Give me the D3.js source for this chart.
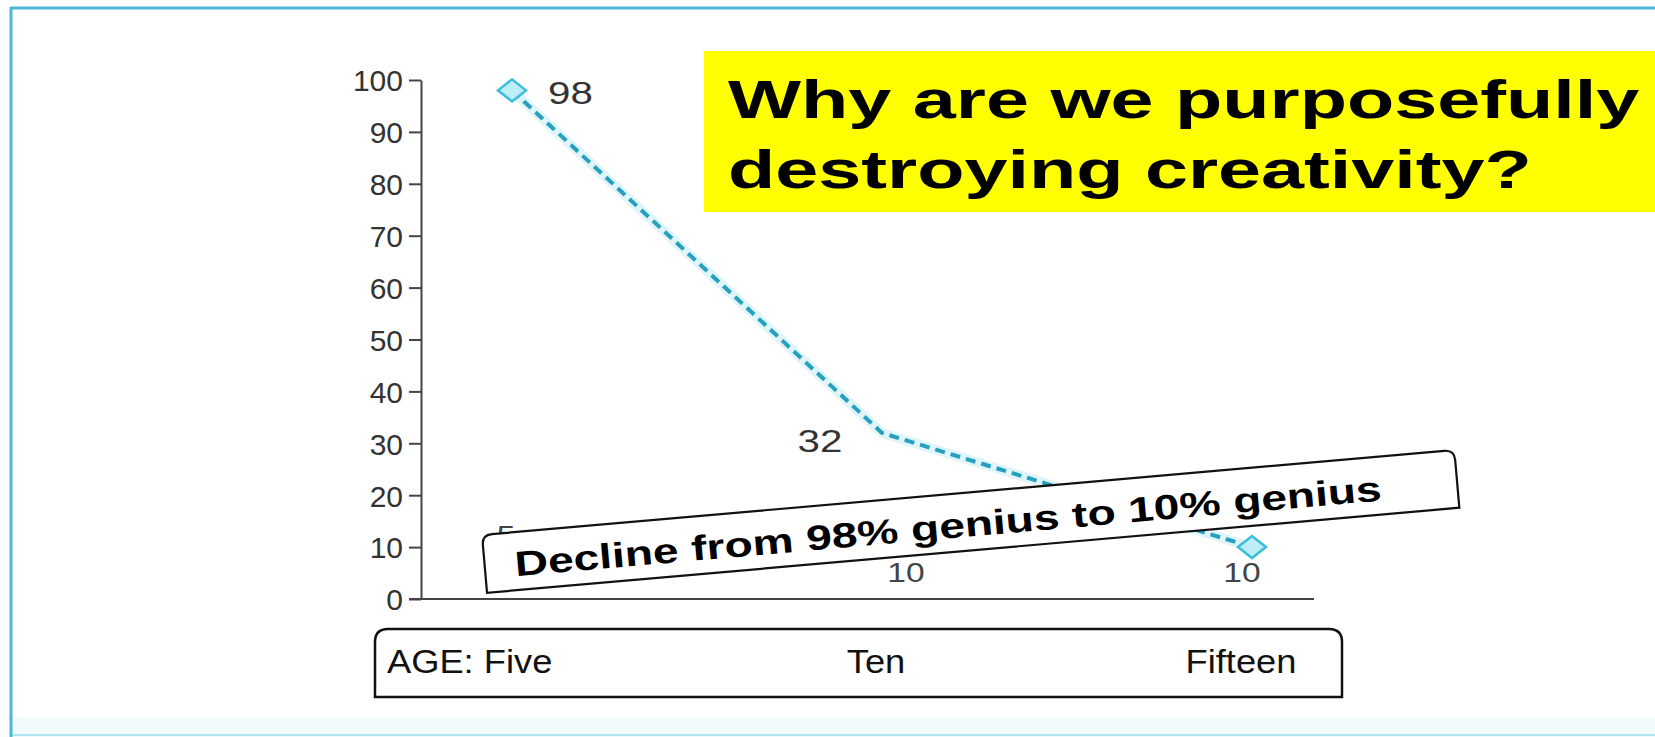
<!DOCTYPE html>
<html>
<head>
<meta charset="utf-8">
<script src="https://cdn.jsdelivr.net/npm/d3@7/dist/d3.min.js"></script>
<style>
  html, body { margin: 0; padding: 0; background: #ffffff; }
  svg { display: block; }
  text { font-family: "Liberation Sans", Arial, Helvetica, sans-serif; }
</style>
</head>
<body>
<svg id="chart" width="1655" height="737"></svg>
<script>
// ---------------- data ----------------
const categories = ["Five", "Ten", "Fifteen"];
const categoryLabels = ["AGE: Five", "Ten", "Fifteen"];
const geniusPct = [98, 32, 10];
const valueLabels = ["98", "32", "10"];
const markerShown = [true, false, true];
const strayLabels = ["5", "10", "10"];
const yTicks = [0, 10, 20, 30, 40, 50, 60, 70, 80, 90, 100];
const titleLines = ["Why are we purposefully", "destroying creativity?"];
const calloutText = "Decline from 98% genius to 10% genius";

// ---------------- layout ----------------
const W = 1655, H = 737;
const svg = d3.select("#chart");

const x = d3.scalePoint().domain(categories).range([512, 1252]);
const y = d3.scaleLinear().domain([0, 100]).range([599, 80]);
const axisX = 421;

// frame
svg.append("rect").attr("x", 0).attr("y", 0).attr("width", W).attr("height", H).attr("fill", "#fff");
svg.append("rect").attr("x", 11).attr("y", 718).attr("width", W - 11).attr("height", 19).attr("fill", "#f1fbfc");
svg.append("line").attr("x1", 11).attr("x2", W).attr("y1", 735).attr("y2", 735)
  .attr("stroke", "#aee6ef").attr("stroke-width", 2);
svg.append("line").attr("x1", 11).attr("x2", W).attr("y1", 8).attr("y2", 8)
  .attr("stroke", "#4bb6d8").attr("stroke-width", 3);
svg.append("line").attr("x1", 11).attr("x2", 11).attr("y1", 7).attr("y2", H)
  .attr("stroke", "#4bb6d8").attr("stroke-width", 3);

// y axis
const yAxis = svg.append("g").attr("transform", `translate(${axisX},0)`)
  .call(d3.axisLeft(y).tickValues(yTicks).tickSize(12).tickSizeOuter(0).tickPadding(6));
yAxis.select(".domain").attr("stroke", "#444").attr("stroke-width", 2);
yAxis.selectAll(".tick line").attr("stroke", "#444").attr("stroke-width", 2);
yAxis.selectAll(".tick text")
  .attr("x", 0).attr("dy", "0.36em")
  .attr("transform", `translate(-18,0) scale(1.0,1)`)
  .attr("font-size", 30).attr("fill", "#333")
  .attr("font-family", "'Liberation Sans', Arial, sans-serif");

// x axis baseline
svg.append("line").attr("x1", axisX - 12).attr("x2", 1314).attr("y1", y(0)).attr("y2", y(0))
  .attr("stroke", "#444").attr("stroke-width", 2);

// data
const pts = categories.map((c, i) => ({ c, v: geniusPct[i], i }));

// line glow + dashed line
const lineGen = d3.line().x(d => x(d.c)).y(d => y(d.v)).curve(d3.curveLinear);
svg.append("path").datum(pts).attr("d", lineGen)
  .attr("fill", "none").attr("stroke", "#e0f5fa").attr("stroke-width", 10)
  .attr("stroke-linejoin", "round");
svg.append("path").datum(pts).attr("d", lineGen)
  .attr("fill", "none").attr("stroke", "#25a0bf").attr("stroke-width", 4)
  .attr("stroke-dasharray", "10,6").attr("stroke-linejoin", "round");

// markers (stretched diamonds)
const dw = 14, dh = 11;
svg.selectAll(".marker").data(pts.filter(d => markerShown[d.i])).join("path")
  .attr("class", "marker")
  .attr("d", d => {
    const cx = x(d.c), cy = y(d.v);
    return `M${cx - dw},${cy}L${cx},${cy - dh}L${cx + dw},${cy}L${cx},${cy + dh}Z`;
  })
  .attr("fill", "#bdeef8").attr("stroke", "#3bbedb").attr("stroke-width", 2.5);

// value labels
const valueOffsets = [[36, 2, "start"], [-62, 8, "middle"], [0, 0, "none"]];
svg.selectAll(".vlab").data(pts.filter(d => valueOffsets[d.i][2] !== "none")).join("text")
  .attr("class", "vlab")
  .attr("transform", d => `translate(${x(d.c) + valueOffsets[d.i][0]},${y(d.v) + valueOffsets[d.i][1]}) scale(1.3,1)`)
  .attr("dy", "0.36em")
  .attr("text-anchor", d => valueOffsets[d.i][2])
  .attr("font-size", 31).attr("fill", "#333")
  .text(d => valueLabels[d.i]);

// stray labels near the baseline
const strayOffsets = [[-6, 64], [24, 27], [-10, 27]];
svg.selectAll(".slab").data(pts).join("text")
  .attr("class", "slab")
  .attr("transform", d => `translate(${x(d.c) + strayOffsets[d.i][0]},${y(0) - strayOffsets[d.i][1]}) scale(1.2,1)`)
  .attr("dy", "0.36em").attr("text-anchor", "middle")
  .attr("font-size", 28).attr("fill", "#444")
  .text(d => strayLabels[d.i]);

// category box
function topRoundedRect(x0, y0, w, h, r) {
  return `M${x0},${y0 + h}V${y0 + r}Q${x0},${y0} ${x0 + r},${y0}H${x0 + w - r}Q${x0 + w},${y0} ${x0 + w},${y0 + r}V${y0 + h}Z`;
}
svg.append("path").attr("d", topRoundedRect(375, 629, 967, 68, 13))
  .attr("fill", "#fff").attr("stroke", "#111").attr("stroke-width", 2.5);
const catPos = [[387, "start"], [-6, "middle"], [-11, "middle"]];
svg.selectAll(".cat").data(categories).join("text")
  .attr("class", "cat")
  .attr("transform", (c, i) => `translate(${i === 0 ? catPos[0][0] : x(c) + catPos[i][0]},673) scale(1.1,1)`)
  .attr("text-anchor", (c, i) => catPos[i][1])
  .attr("font-size", 33).attr("fill", "#111")
  .text((c, i) => categoryLabels[i]);

// rotated callout
const callout = svg.append("g").attr("transform", "translate(482,535) rotate(-5)");
callout.append("path").attr("d", topRoundedRect(0, 0, 976, 58, 10))
  .attr("fill", "#fff").attr("stroke", "#111").attr("stroke-width", 2.2);
callout.append("text")
  .attr("transform", `translate(30,44) scale(1.32,1)`)
  .attr("font-size", 35).attr("font-weight", "bold").attr("fill", "#000")
  .text(calloutText);

// title box
svg.append("rect").attr("x", 704).attr("y", 51).attr("width", W - 704).attr("height", 161)
  .attr("fill", "#ffff00");
svg.selectAll(".title").data(titleLines).join("text")
  .attr("class", "title")
  .attr("transform", (t, i) => `translate(728,${118 + i * 70}) scale(1.46,1)`)
  .attr("font-size", 53).attr("font-weight", "bold").attr("fill", "#000")
  .text(t => t);
</script>
</body>
</html>
